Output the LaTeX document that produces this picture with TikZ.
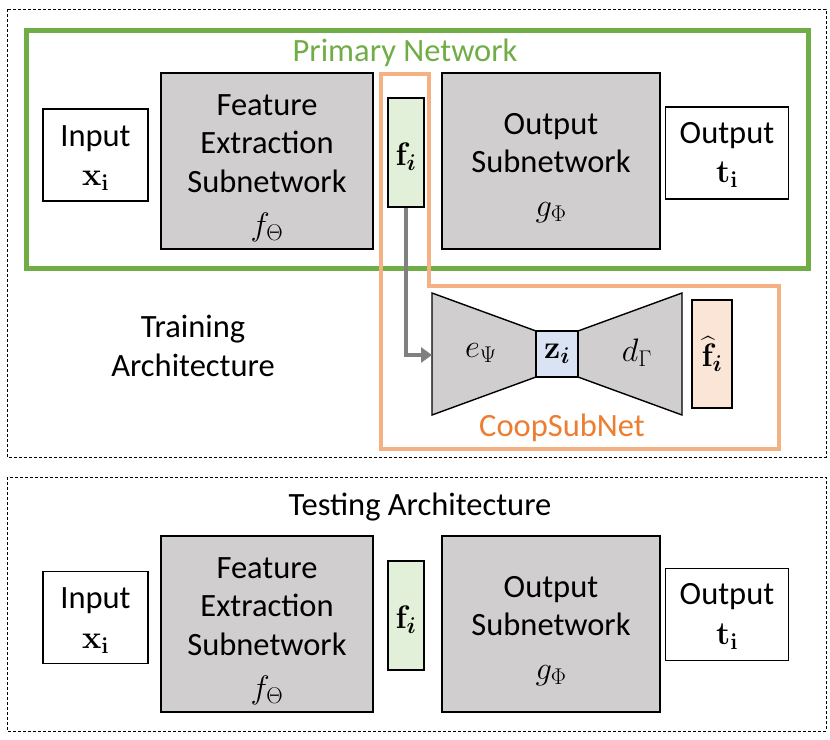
\RequirePackage{fix-cm}
\documentclass[tikz,border=0pt]{standalone}
\usepackage{amsmath,bm}
\usepackage[no-math]{fontspec}
\setmainfont{Carlito}
\usetikzlibrary{arrows.meta}
\definecolor{pgreen}{HTML}{70AD47}
\definecolor{porange}{HTML}{F4B183}
\definecolor{torange}{HTML}{ED7D31}
\definecolor{boxgray}{HTML}{D0CECE}
\definecolor{figreen}{HTML}{E2F0D9}
\definecolor{zblue}{HTML}{DAE3F3}
\definecolor{fhatfill}{HTML}{FBE5D6}
\definecolor{arrgray}{HTML}{808080}
\tikzset{
  every node/.style={font=\fontsize{32.5}{38.5}\selectfont},
  blk/.style={draw=black, line width=1.4pt, inner sep=0pt, align=center},
  graybox/.style={blk, fill=boxgray, minimum height=176pt},
  iobox/.style={blk, fill=white, minimum height=92pt},
  fibox/.style={blk, fill=figreen, minimum width=36pt, minimum height=109pt},
  boxtext/.style={inner sep=0pt, align=center},
  dashbox/.style={draw=black, line width=0.8pt, dash pattern=on 3pt off 2pt},
  trap/.style={draw=black, line width=1.4pt, fill=boxgray},
  feedarrow/.style={draw=arrgray, line width=4pt, -{Triangle[length=11pt,width=15pt]}},
}
\begin{document}
\begin{tikzpicture}[x=1pt,y=-1pt]
\useasboundingbox (0,0) rectangle (830,739);
% ---------- Training ----------
\draw[dashbox] (7,9) rectangle (826,457);
\draw[pgreen, line width=5pt] (26,30) rectangle (808,268);
\node[text=pgreen] (pn) at (405,53) {Primary Network};
\node[iobox, minimum width=105pt] (in1) at (95.5,155) {};
\node[boxtext] (in1t) at ([yshift=-3pt]in1.center) {Input\\[1pt]$\mathbf{x}_{\mathbf{i}}$};
\node[graybox, minimum width=212pt] (fe1) at (267,161) {};
\node[boxtext] (fe1t) at ([yshift=-7pt]fe1.center) {Feature\\Extraction\\Subnetwork\\[5pt]$f_{\Theta}$};
\node[graybox, minimum width=218pt] (os1) at (551,161) {};
\node[boxtext] (os1t) at ([yshift=-7pt]os1.center) {Output\\Subnetwork\\[5pt]$g_{\Phi}$};
\node[iobox, minimum width=123pt] (out1) at (727,153) {};
\node[boxtext] (out1t) at ([yshift=-2pt]out1.center) {Output\\[1pt]$\mathbf{t}_{\mathbf{i}}$};
% orange CoopSubNet outline
\draw[porange, line width=4pt, line join=miter] (381,74) -- (429,74) -- (429,286) -- (779,286) -- (779,449) -- (381,449) -- cycle;
\node[fibox] (fi1) at (406,152.5) {};
\node[boxtext] (fi1t) at ([yshift=-4pt]fi1.center) {$\mathbf{f}_{\boldsymbol{i}}$};
% autoencoder
\draw[trap] (432,293) -- (536,331) -- (536,377) -- (432,415) -- cycle;
\draw[trap] (578,331) -- (682,293) -- (682,415) -- (578,377) -- cycle;
\coordinate (enc) at (432,355);
\node (ep) at (481,353) {$e_{\Psi}$};
\node (dg) at (637,353) {$d_{\Gamma}$};
\node[blk, line width=2.4pt, fill=zblue, minimum width=42pt, minimum height=46pt] (zi) at (557,354) {$\mathbf{z}_{\boldsymbol{i}}$};
\node[blk, fill=fhatfill, minimum width=40pt, minimum height=108pt] (fh) at (712,354) {$\widehat{\mathbf{f}}_{\boldsymbol{i}}$};
\node[text=torange] (csn) at (562,428) {CoopSubNet};
\node[align=center] (ta) at (193,346) {Training\\Architecture};
\draw[feedarrow] (fi1.south) |- (enc);
% ---------- Testing ----------
\draw[dashbox] (7,477) rectangle (826,731);
\node (te) at (420,507) {Testing Architecture};
\node[iobox, minimum width=105pt] (in2) at (95.5,617.5) {};
\node[boxtext] (in2t) at ([yshift=-3pt]in2.center) {Input\\[1pt]$\mathbf{x}_{\mathbf{i}}$};
\node[graybox, minimum width=212pt] (fe2) at (267,624) {};
\node[boxtext] (fe2t) at ([yshift=-7pt]fe2.center) {Feature\\Extraction\\Subnetwork\\[5pt]$f_{\Theta}$};
\node[fibox] (fi2) at (406,615.5) {};
\node[boxtext] (fi2t) at ([yshift=-4pt]fi2.center) {$\mathbf{f}_{\boldsymbol{i}}$};
\node[graybox, minimum width=218pt] (os2) at (551,624) {};
\node[boxtext] (os2t) at ([yshift=-7pt]os2.center) {Output\\Subnetwork\\[5pt]$g_{\Phi}$};
\node[iobox, minimum width=123pt] (out2) at (727,614.5) {};
\node[boxtext] (out2t) at ([yshift=-2pt]out2.center) {Output\\[1pt]$\mathbf{t}_{\mathbf{i}}$};
\end{tikzpicture}
\end{document}
